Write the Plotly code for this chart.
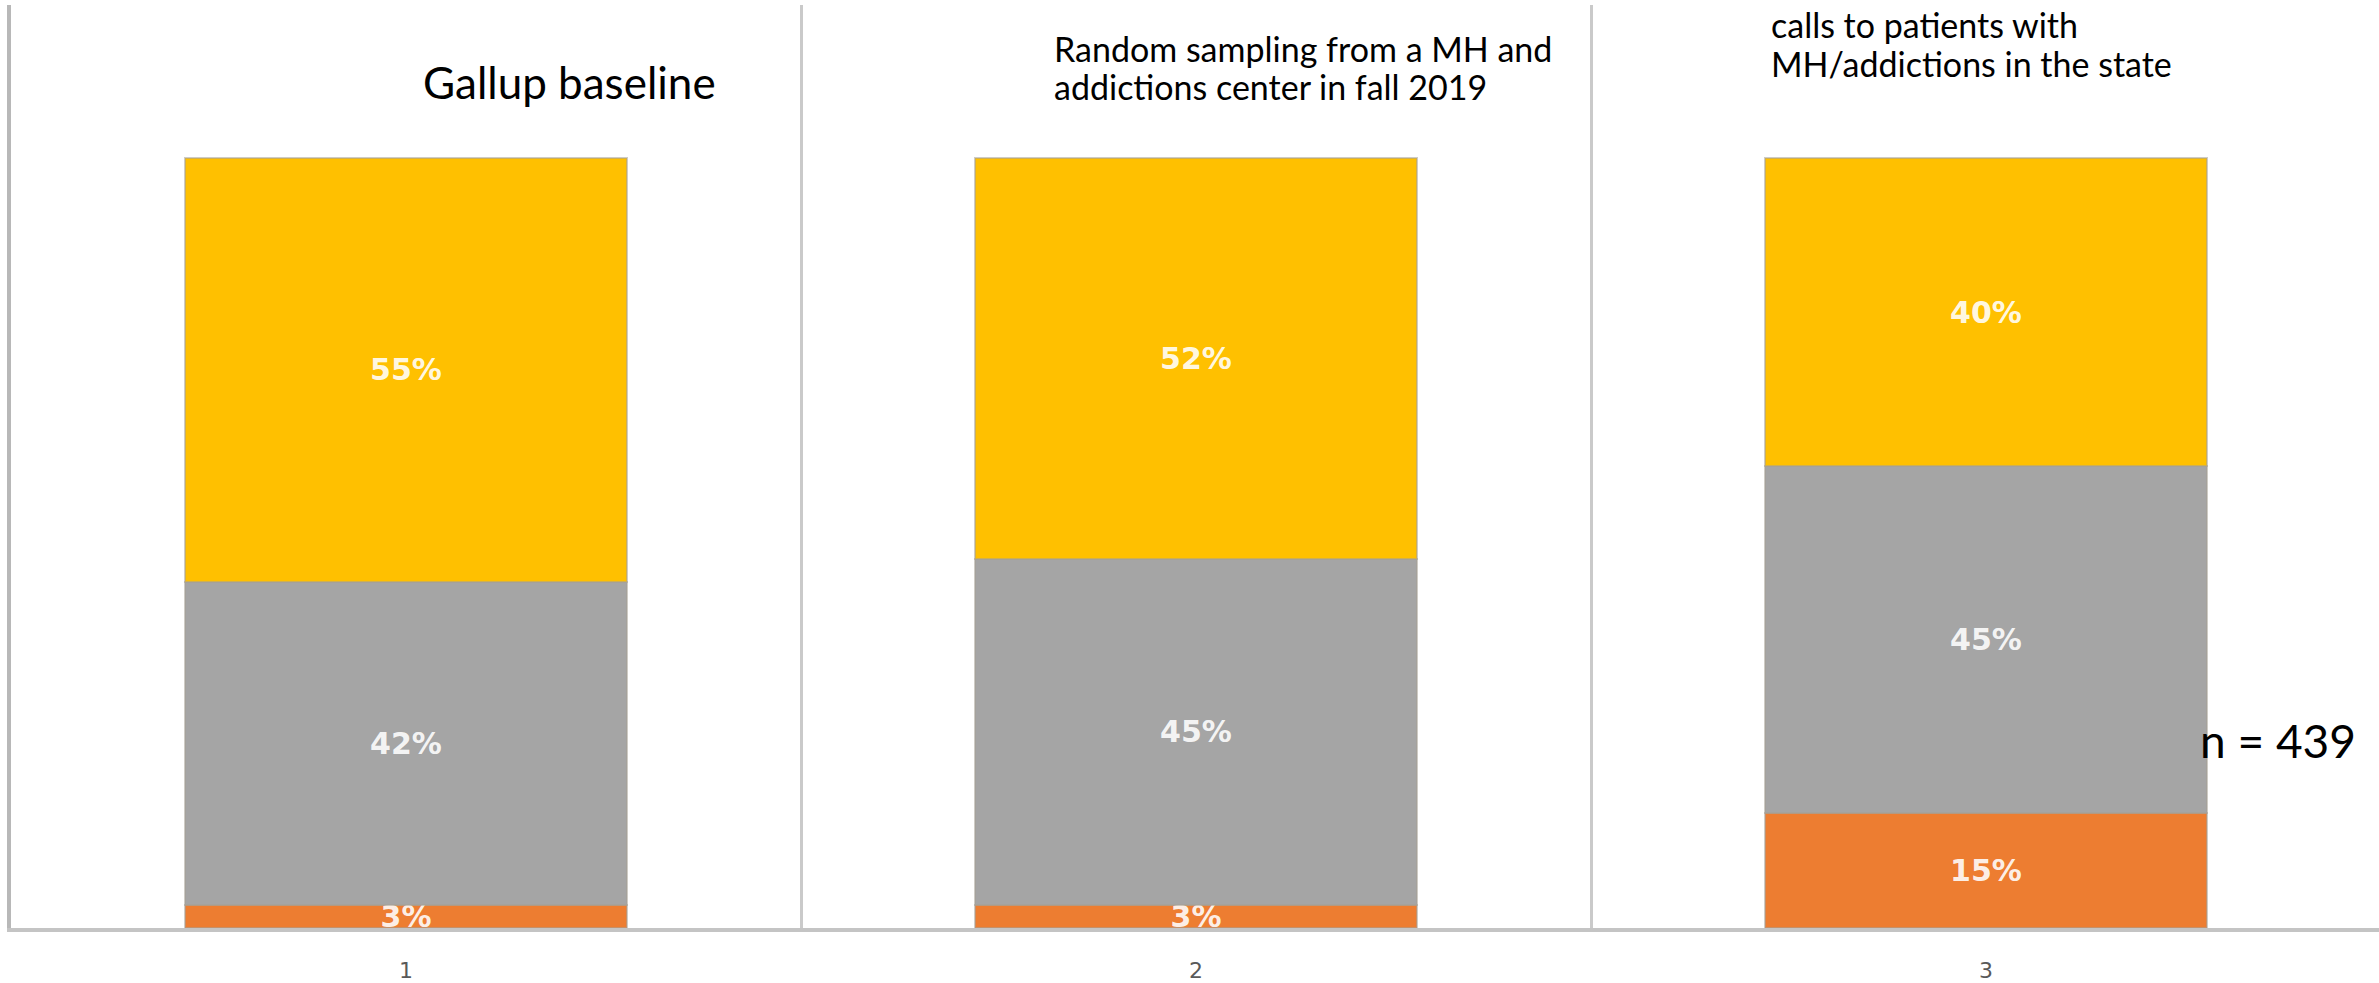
import plotly.graph_objects as go

# Survey groups and stacked response shares (percent)
categories = ["1", "2", "3"]
bottom_share = [3, 3, 15]
middle_share = [42, 45, 45]
top_share = [55, 52, 40]

bottom_color = "#ED7D31"
middle_color = "#A5A5A5"
top_color = "#FFC000"

W, H = 2379, 983
L_PX, R_PX, T_PX, B_PX = 11, 2379, 5, 932  # plot area edges in pixels
FULL_PX = 159  # pixel row of the 100% level


def px(x, y):
    """Convert page pixel coordinates to paper coordinates."""
    return (x - L_PX) / (R_PX - L_PX), (B_PX - y) / (B_PX - T_PX)


fig = go.Figure()
for vals, color in [(bottom_share, bottom_color),
                    (middle_share, middle_color),
                    (top_share, top_color)]:
    fig.add_trace(go.Bar(
        x=categories, y=vals,
        marker=dict(color=color, line=dict(color="rgba(165,160,150,0.55)", width=2)),
        texttemplate="%{y}%",
        textposition="inside",
        insidetextanchor="middle",
        constraintext="none",
        textfont=dict(family="DejaVu Sans", size=30, weight="bold",
                      color="rgba(255,255,255,0.9)"),
        width=0.56,
        hoverinfo="skip",
    ))

# Group titles and sample size
titles = [
    ("Gallup baseline", 421, 82, 44),
    ("Random sampling from a MH and", 1052, 49, 34),
    ("addictions center in fall 2019", 1052, 87, 34),
    ("calls to patients with", 1769, 25, 34),
    ("MH/addictions in the state", 1769, 64, 34),
    ("n = 439", 2198, 744, 46),
]
annotations = []
for text, x, y, size in titles:
    ax, ay = px(x, y)
    annotations.append(dict(
        text=text, x=ax, y=ay, xref="paper", yref="paper",
        xanchor="left", yanchor="middle", showarrow=False,
        font=dict(family="Lato", size=size, color="#000000"),
    ))

fig.update_layout(
    width=W, height=H,
    margin=dict(l=L_PX, r=W - R_PX, t=T_PX, b=H - B_PX, pad=0),
    barmode="stack",
    showlegend=False,
    plot_bgcolor="white",
    paper_bgcolor="white",
    annotations=annotations,
    xaxis=dict(
        type="category",
        range=[-0.5, -0.5 + (R_PX - L_PX) / 790.0],
        tickson="boundaries",
        showgrid=True, gridcolor="#cacaca", gridwidth=3,
        showline=True, linecolor="#c4c4c4", linewidth=4,
        ticks="", ticklabelstandoff=20,
        tickfont=dict(family="DejaVu Sans", size=22, color="#595959"),
        fixedrange=True,
    ),
    yaxis=dict(
        range=[0, 100 * (B_PX - T_PX) / (B_PX - FULL_PX)],
        showgrid=False, zeroline=False,
        showticklabels=False, ticks="",
        showline=True, linecolor="#b8b8b8", linewidth=4,
        fixedrange=True,
    ),
)

fig.write_html("out.html")
